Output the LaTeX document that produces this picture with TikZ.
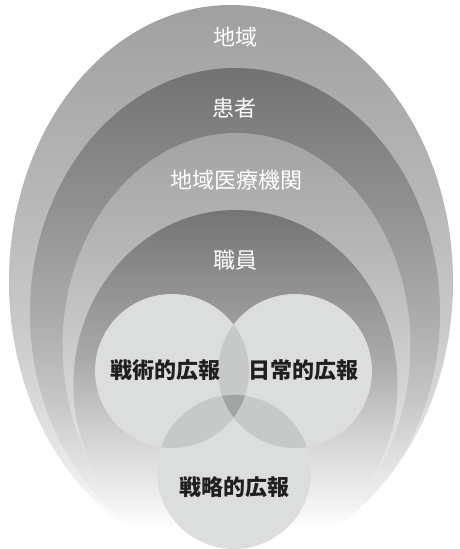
\documentclass[tikz,border=0pt]{standalone}
\usepackage{fontspec}
\newfontfamily\cjk{Noto Sans CJK JP}
\definecolor{circfill}{HTML}{DCDDDD}
\definecolor{pairfill}{HTML}{C7C8C8}
\definecolor{tripfill}{HTML}{A2A3A3}
% vertical gradient built from thin strips; entries: ytop/ybottom/greytop/greybottom (pixel rows, grey 0-255)
\newcommand\bandstrips[1]{%
  \foreach \ya/\yb/\va/\vb in {#1}{%
    \pgfmathtruncatemacro\nn{max(1,ceil((\yb-\ya)/3))}%
    \foreach \k in {1,...,\nn}{%
      \pgfmathsetmacro\yt{549-\ya-(\k-1)*(\yb-\ya)/\nn+0.4}%
      \pgfmathsetmacro\ybot{549-\ya-\k*(\yb-\ya)/\nn-0.4}%
      \pgfmathtruncatemacro\vv{round(\va+(\vb-\va)*(\k-0.5)/\nn)}%
      \definecolor{stripc}{RGB}{\vv,\vv,\vv}%
      \fill[stripc] (0,\yt) rectangle (460,\ybot);
    }%
  }%
}
\begin{document}
\begin{tikzpicture}[x=1pt,y=1pt,
  wlabel/.style={text=white,font=\cjk\fontsize{22}{26}\selectfont,inner sep=0pt},
  blabel/.style={text=black!88,font=\cjk\bfseries\fontsize{22}{26}\selectfont,inner sep=0pt},
  venn/.style={fill=circfill,draw=none}]
\useasboundingbox (0,0) rectangle (460,549);
\clip (0,0) rectangle (460,549);
\fill[white] (0,0) rectangle (460,549);
% nested ellipses (pixel y converted: Y = 549 - y)
\begin{scope}
  \clip (231,267) ellipse [x radius=222,y radius=277];
  \bandstrips{5/200/160/183, 200/325/183/201, 325/400/201/216, 400/450/216/230, 450/500/230/244, 500/530/244/255, 530/560/255/255}
\end{scope}
\begin{scope}
  \clip (235,235.5) ellipse [x radius=205,y radius=245.5];
  \bandstrips{68/200/114/143, 200/325/143/174, 325/400/174/198, 400/450/198/220, 450/500/220/240, 500/530/240/255, 530/560/255/255}
\end{scope}
\begin{scope}
  \clip (236.5,203) ellipse [x radius=174,y radius=213];
  \bandstrips{133/250/163/182, 250/325/182/198, 325/400/198/214, 400/450/214/229, 450/500/229/243, 500/530/243/255, 530/560/255/255}
\end{scope}
\begin{scope}
  \clip (235.5,164.5) ellipse [x radius=162,y radius=174.5];
  \bandstrips{210/300/116/149, 300/360/149/170, 360/440/170/212, 440/500/212/240, 500/530/240/255, 530/560/255/255}
\end{scope}
% Venn circles
\coordinate (cl) at (172,178);
\coordinate (cr) at (295,178);
\coordinate (cb) at (234,77);
\fill[venn] (cl) circle [radius=77];
\fill[venn] (cr) circle [radius=77];
\fill[venn] (cb) circle [radius=77];
\begin{scope}
  \clip (cl) circle [radius=77];
  \fill[pairfill] (cr) circle [radius=77];
  \fill[pairfill] (cb) circle [radius=77];
\end{scope}
\begin{scope}
  \clip (cr) circle [radius=77];
  \fill[pairfill] (cb) circle [radius=77];
\end{scope}
\begin{scope}
  \clip (cl) circle [radius=77];
  \clip (cr) circle [radius=77];
  \fill[tripfill] (cb) circle [radius=77];
\end{scope}
% labels
\node[wlabel] (chiiki) at (235,512) {地域};
\node[wlabel] (kanja) at (234,441) {患者};
\node[wlabel] (iryo) at (236,369) {地域医療機関};
\node[wlabel] (shokuin) at (235,289) {職員};
\node[blabel] (senjutsu) at (165,179) {戦術的広報};
\node[blabel] (nichijo) at (303,179) {日常的広報};
\node[blabel] (senryaku) at (234,62) {戦略的広報};
\end{tikzpicture}
\end{document}
